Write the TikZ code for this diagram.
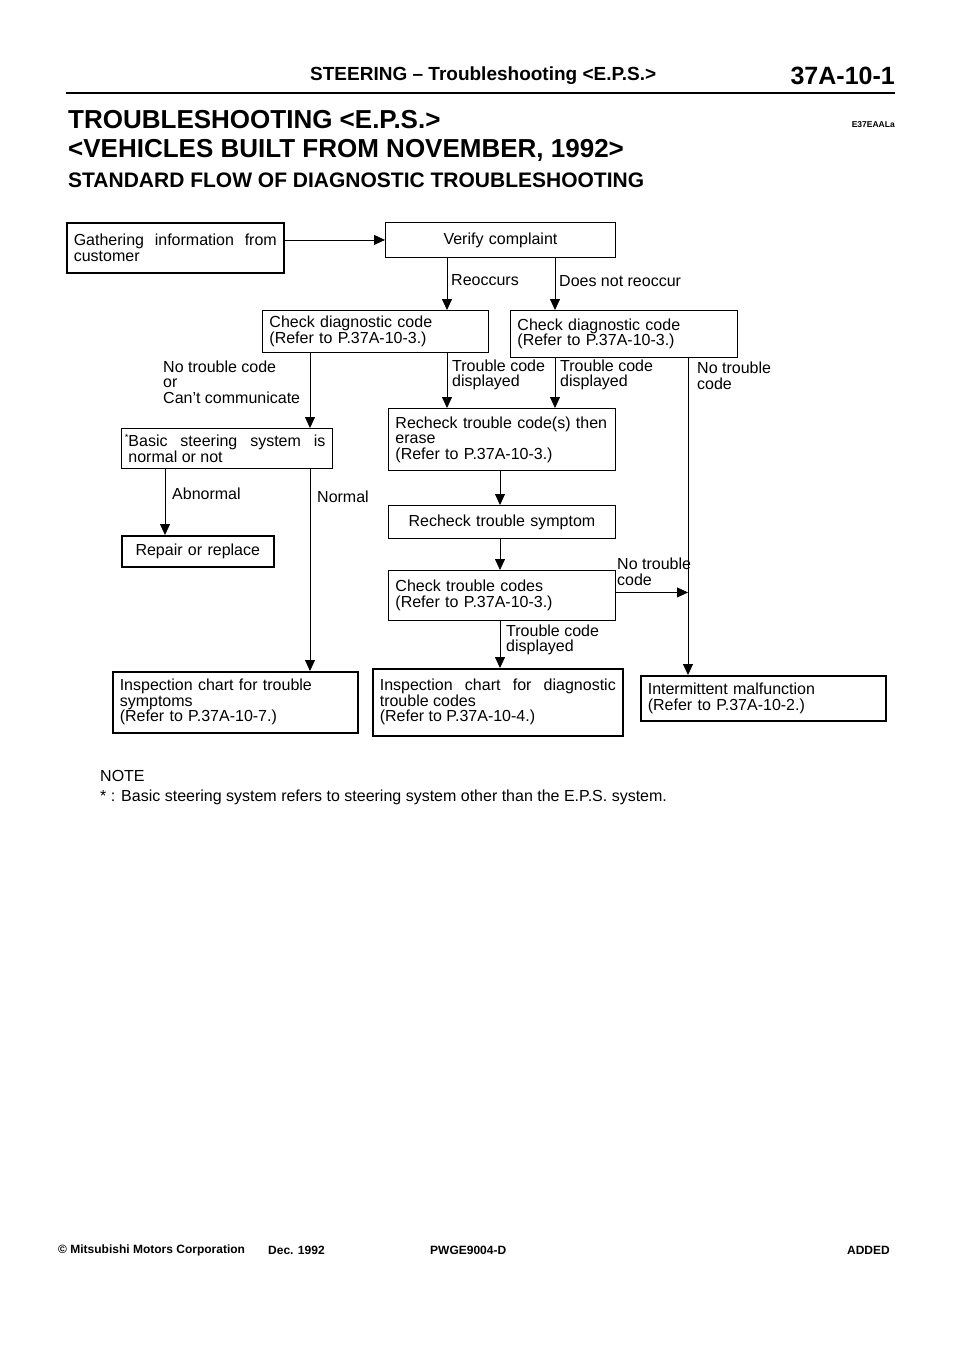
\documentclass[tikz,border=0pt]{standalone}
\usepackage{fontspec}
\setmainfont{Liberation Sans}
\usetikzlibrary{arrows.meta}

\begin{document}
\begin{tikzpicture}[x=1pt,y=-1pt,
 every node/.style={font=\fontsize{16}{15.5}\selectfont, inner sep=0pt},
 box/.style n args={2}{draw, line width=0.9pt, anchor=north west, inner xsep=7pt,
   minimum width=#1pt, minimum height=#2pt, text width={#1pt-14pt}, align=left},
 heavy/.style n args={2}{box={#1}{#2}, line width=1.6pt},
 lbl/.style={anchor=west, align=left},
 flow/.style={line width=0.8pt, -{Triangle[length=11pt,width=10pt]}},
 head/.style={anchor=west, align=left, font=\bfseries}]
 \useasboundingbox (0,0) rectangle (960,1358);

 % page head
 \node[head, font=\fontsize{19}{19}\selectfont\bfseries] (pghead) at (310,76)
   {STEERING -- Troubleshooting <E.P.S.>};
 \node[head, anchor=east, font=\fontsize{25}{25}\selectfont\bfseries] (pgno) at (895,76) {37A-10-1};
 \draw[line width=2pt] (66,93) -- (895,93);
 \node[head, font=\fontsize{26}{28.5}\selectfont\bfseries] (title) at (68,136)
   {TROUBLESHOOTING <E.P.S.>\\<VEHICLES BUILT FROM NOVEMBER, 1992>};
 \node[head, anchor=east, font=\fontsize{8.5}{9}\selectfont\bfseries] (code) at (895,125) {E37EAALa};
 \node[head, font=\fontsize{21}{21}\selectfont\bfseries] (subtitle) at (68,180)
   {STANDARD FLOW OF DIAGNOSTIC TROUBLESHOOTING};

 % lanes for the vertical connectors
 \coordinate (laneA) at (447,0);
 \coordinate (laneB) at (555,0);
 \coordinate (laneC) at (310,0);
 \coordinate (laneD) at (165,0);
 \coordinate (laneM) at (500,0);
 \coordinate (laneE) at (688,0);

 % boxes
 \node[heavy={217}{50}, align=justify] (gather) at (66,222)
   {Gathering information from\linebreak customer};
 \node[box={230}{35}, align=center] (verify) at (385,222) {Verify complaint};
 \node[box={226}{42}] (chkL) at (262,310) {Check diagnostic code\\(Refer to P.37A-10-3.)};
 \node[box={227}{47}] (chkR) at (510,310) {Check diagnostic code\\(Refer to P.37A-10-3.)};
 \node[box={211}{40}, align=justify] (basic) at (121,428)
   {\llap{\raisebox{6pt}{\fontsize{9}{9}\selectfont *}}Basic steering system is\linebreak normal or not};
 \node[box={227}{62}] (recode) at (388,408)
   {Recheck trouble code(s) then\\erase\\(Refer to P.37A-10-3.)};
 \node[heavy={152}{31}, align=center] (repair) at (121,535) {Repair or replace};
 \node[box={227}{33}, align=center] (resym) at (388,505) {Recheck trouble symptom};
 \node[box={227}{50}] (chkcodes) at (388,570) {Check trouble codes\\(Refer to P.37A-10-3.)};
 \node[heavy={245}{61}] (inspS) at (112,671)
   {Inspection chart for trouble\\symptoms\\(Refer to P.37A-10-7.)};
 \node[heavy={250}{67}, align=justify] (inspD) at (372,668)
   {Inspection chart for diagnostic\linebreak trouble codes\\(Refer to P.37A-10-4.)};
 \node[heavy={245}{45}] (interm) at (640,675)
   {Intermittent malfunction\\(Refer to P.37A-10-2.)};

 % connectors
 \draw[flow] (gather.east |- verify.west) -- (verify.west);
 \draw[flow] (verify.south -| laneA) -- (chkL.north -| laneA);
 \draw[flow] (verify.south -| laneB) -- (chkR.north -| laneB);
 \draw[flow] (chkL.south -| laneC) -- (basic.north -| laneC);
 \draw[flow] (chkL.south -| laneA) -- (recode.north -| laneA);
 \draw[flow] (chkR.south -| laneB) -- (recode.north -| laneB);
 \draw[flow] (chkR.south -| laneE) -- (interm.north -| laneE);
 \draw[flow] (basic.south -| laneD) -- (repair.north -| laneD);
 \draw[flow] (basic.south -| laneC) -- (inspS.north -| laneC);
 \draw[flow] (recode.south -| laneM) -- (resym.north -| laneM);
 \draw[flow] (resym.south -| laneM) -- (chkcodes.north -| laneM);
 \draw[flow] ([yshift=3pt]chkcodes.east) -- ([yshift=3pt]chkcodes.east -| laneE);
 \draw[flow] (chkcodes.south -| laneM) -- (inspD.north -| laneM);

 % branch labels
 \node[lbl] (reoc) at (451,280) {Reoccurs};
 \node[lbl] (noreoc) at (559,281) {Does not reoccur};
 \node[lbl] (nocomm) at (163,382) {No trouble code\\or\\Can't communicate};
 \node[lbl] (dispL) at (452,375) {Trouble code\\displayed};
 \node[lbl] (dispR) at (560,375) {Trouble code\\displayed};
 \node[lbl] (nocodeR) at (697,376) {No trouble\\code};
 \node[lbl] (abn) at (172,494) {Abnormal};
 \node[lbl] (nrm) at (317,497) {Normal};
 \node[lbl] (nocodeM) at (617,572) {No trouble\\code};
 \node[lbl] (dispM) at (506,640) {Trouble code\\displayed};

 % note
 \node[lbl] (note) at (100,776) {NOTE};
 \node[lbl] (notetxt) at (100,797)
   {* : Basic steering system refers to steering system other than the E.P.S. system.};

 % page foot
 \node[head, font=\fontsize{12}{12}\selectfont\bfseries] (corp) at (58,1250) {© Mitsubishi Motors Corporation};
 \node[head, font=\fontsize{12}{12}\selectfont\bfseries] (date) at (268,1250) {Dec. 1992};
 \node[head, font=\fontsize{12}{12}\selectfont\bfseries] (pwge) at (430,1250) {PWGE9004-D};
 \node[head, anchor=east, font=\fontsize{12}{12}\selectfont\bfseries] (added) at (890,1250) {ADDED};
\end{tikzpicture}
\end{document}
